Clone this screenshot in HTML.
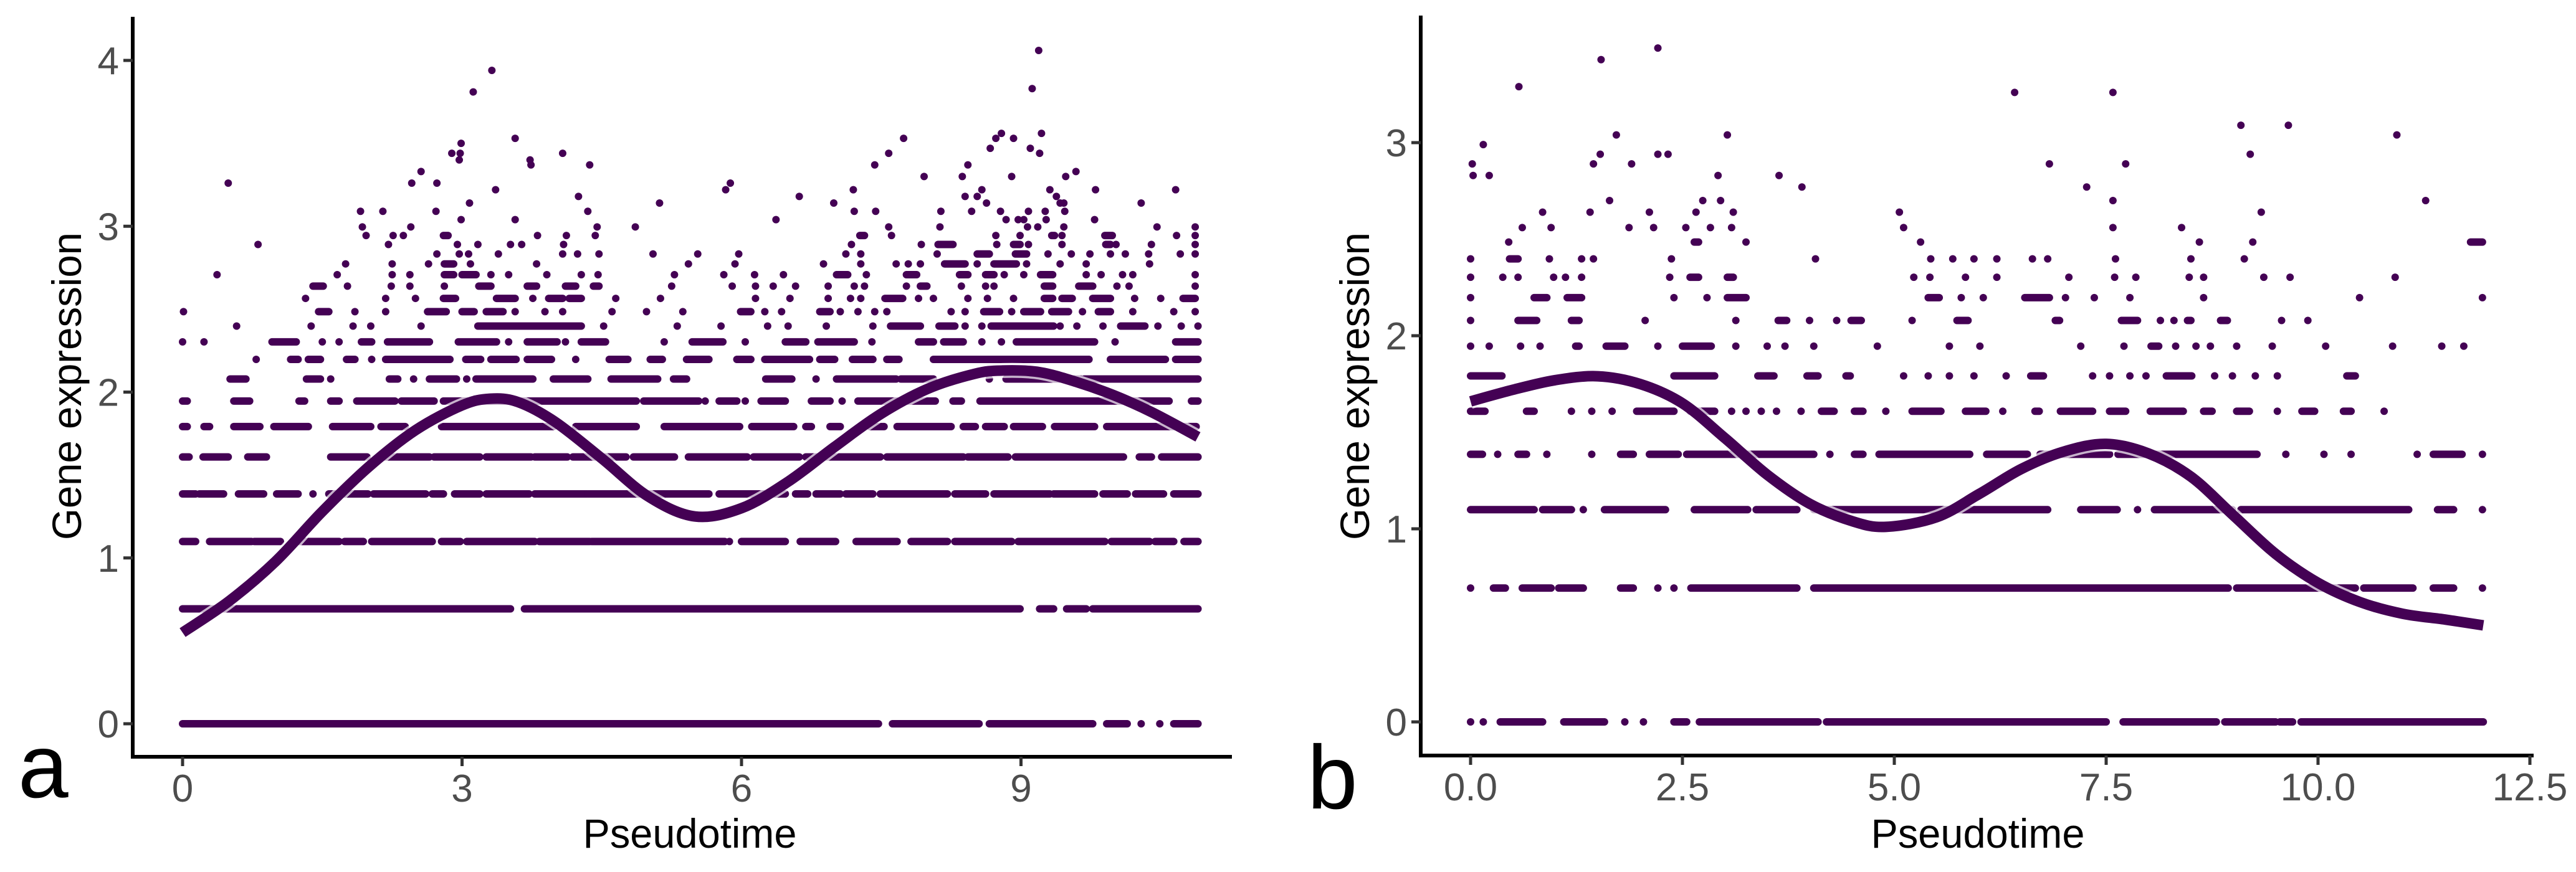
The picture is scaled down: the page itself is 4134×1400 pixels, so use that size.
<!DOCTYPE html>
<html><head><meta charset="utf-8"><style>
html,body{margin:0;padding:0;background:#fff;}
svg{display:block;}
text{font-family:"Liberation Sans",sans-serif;}
</style></head><body>
<svg id="chart" xmlns="http://www.w3.org/2000/svg" width="4134" height="1400" viewBox="0 0 4134 1400">
<rect x="0" y="0" width="4134" height="1400" fill="#fff"/>
<g id="pa"></g>
<g id="pb"></g>
<text x="29" y="1280" font-size="145" fill="#000">a</text>
<text x="2098" y="1298" font-size="145" fill="#000">b</text>
</svg>
<script>
const levelsA = [0,0.693,1.099,1.386,1.609,1.792,1.946,2.079,2.197,2.303,2.398,2.485,2.565,2.639,2.708,2.773,2.833,2.890,2.944,2.996];
const rowsA = [
 [[0,7.47],[7.62,8.55],[8.66,9.77],[9.92,10.14],10.29,10.49,[10.64,10.9]],
 [[0,3.52],[3.67,8.99],[9.2,9.35],[9.49,9.7],[9.77,10.9]],
 [[0,0.14],[0.29,0.74],[0.77,1.05],[1.25,1.68],[1.74,1.94],[2.03,2.68],[2.78,2.98],[3.05,3.78],[3.83,4.37],[4.39,5.82],5.87,[6.0,6.47],[6.63,7.01],[7.23,7.67],[7.82,8.21],[8.29,8.9],[8.97,9.9],[9.97,10.38],[10.44,10.64],[10.75,10.9]],
 [[0,0.14],[0.18,0.44],[0.6,0.87],[1.01,1.24],1.4,[1.57,1.99],[2.05,2.61],[2.68,2.8],[2.92,3.19],[3.26,3.72],[3.78,4.34],[4.35,5.65],[5.76,6.47],[6.58,6.71],[6.8,7.06],[7.12,7.41],[7.49,8.21],[8.29,8.62],[8.71,9.31],[9.35,9.79],[9.88,10.14],[10.23,10.53],[10.64,10.9]],
 [[0,0.07],[0.22,0.49],[0.7,0.9],[1.59,1.98],[2.13,2.65],[2.7,3.19],[3.26,3.74],[3.78,4.13],[4.19,4.76],[4.84,5.28],[5.43,6.06],[6.13,6.62],[6.69,7.49],[7.56,8.38],[8.43,8.86],[8.94,10.1],[10.27,10.4],[10.51,10.9]],
 [[0,0.05],[0.23,0.29],[0.55,0.83],[0.98,1.35],[1.61,2.02],[2.13,2.39],[2.78,3.98],[4.22,4.87],[5.17,5.98],[6.11,6.56],[6.69,6.75],[6.95,7.06],[7.38,7.53],[7.67,8.25],[8.38,8.51],[8.62,8.82],[8.92,9.23],[9.36,9.79],[9.92,10.88]],
 [[0,0.05],[0.55,0.72],[1.25,1.31],[1.59,1.68],[1.87,2.28],[2.35,2.7],[2.8,4.87],[4.95,5.54],5.61,[5.76,5.95],6.04,[6.21,6.47],[6.75,6.95],7.08,[7.25,8.08],[8.27,8.36],[8.56,10.59],[10.83,10.9]],
 [[0.51,0.68],[1.33,1.48],1.59,[2.22,2.31],2.48,[2.65,2.94],3.05,[3.15,3.76],[3.98,4.35],[4.6,5.1],[5.27,5.41],[6.26,6.54],6.8,[7.02,7.66],[7.71,8.06],8.66,[8.84,9.64],[9.68,10.9]],
 [0.79,[1.16,1.24],[1.35,1.48],[1.76,1.85],2.03,[2.18,2.87],[3.04,3.2],[3.31,3.58],[3.7,3.96],4.22,[4.58,4.78],[5.02,5.15],[5.41,5.65],[5.95,6.1],[6.25,6.73],[6.84,7.0],[7.19,7.41],[7.56,7.69],[8.06,9.73],[9.96,10.55],[10.66,10.9]],
 [0,0.23,[0.96,1.22],1.5,1.68,[1.92,2.03],[2.2,2.65],[2.96,3.37],3.5,[3.7,4.02],4.11,[4.28,4.54],5.17,[5.47,5.8],6.04,[6.47,6.69],[6.82,7.21],7.4,[7.9,8.06],[8.17,8.38],8.58,8.79,[8.95,9.79],10.01,[10.66,10.9]],
 [0.58,1.38,1.83,2.02,2.56,[3.17,4.28],4.52,5.31,5.78,6.28,6.5,6.91,7.41,[7.6,7.92],[8.12,8.29],8.4,8.58,[8.68,9.35],9.42,9.6,9.88,[10.07,10.33],10.47,10.72,10.9],
 [0.01,[1.46,1.57],1.85,2.18,[2.63,2.83],[3.0,3.13],[3.26,3.44],3.57,3.89,4.08,4.61,4.98,5.37,[5.99,6.1],6.25,6.43,[6.84,6.95],7.06,7.25,7.43,7.56,8.25,8.4,[8.6,8.77],8.9,[9.03,9.21],[9.33,9.51],9.66,[9.83,9.96],10.2,10.64,10.87],
 [1.32,2.18,2.5,[2.8,2.93],[3.37,3.57],3.76,[3.93,4.08],[4.15,4.28],4.65,5.13,6.15,6.52,6.93,7.17,7.28,[7.54,7.73],7.9,8.06,8.43,8.64,8.92,[9.25,9.34],[9.44,9.55],[9.77,9.96],10.22,10.5,[10.74,10.87]],
 [[1.4,1.51],1.77,2.24,2.44,2.81,[3.18,3.31],[3.7,3.8],[4.11,4.22],[4.41,4.47],5.25,5.9,6.15,6.34,6.58,6.93,7.21,7.32,7.77,[7.92,7.99],8.36,8.62,8.71,[9.25,9.34],[9.62,9.77],10.03,10.16,10.87],
 [0.37,1.66,2.25,2.44,[2.81,2.91],[3.0,3.15],3.31,3.5,3.91,4.28,4.46,5.28,5.81,6.14,6.45,[7.02,7.14],7.34,[7.77,7.88],[8.34,8.43],[8.62,8.71],8.82,9.03,[9.21,9.34],9.7,9.86,10.09,10.2,10.87],
 [1.75,2.25,2.64,[2.81,2.91],3.09,3.8,5.43,5.93,6.88,7.28,7.66,7.79,7.92,[8.18,8.4],8.53,[8.71,8.95],9.06,9.42,9.7,10.38],
 [2.73,2.97,3.07,3.39,4.08,4.24,4.47,5.05,5.53,5.97,7.12,7.28,8.1,[8.53,8.66],[8.94,9.06],9.29,9.54,9.74,9.96,10.12,10.37,10.71,10.87],
 [0.81,2.21,2.95,3.17,3.52,3.64,4.09,7.18,7.93,[8.11,8.27],8.74,[8.92,8.99],9.08,9.44,[9.91,9.96],10.02,10.4,10.87],
 [1.97,2.26,2.37,[2.8,2.85],3.81,4.12,4.43,[7.27,7.32],7.61,8.73,8.99,[9.33,9.36],9.44,[9.9,9.98],10.67,10.87],
 [1.93,2.45,4.45,4.86,7.58,8.13,9.07,9.18,9.46,10.46,10.87]
];
const extraAx = [2.99,3.57,1.91,2.15,2.72,4.35,5.12,3.08,4.25,3.36,0.49,2.46,2.73,2.56,4.37,2.89,2.98,2.97,3.73,3.74,4.08,2.99,3.57,3.12,3.32,
 5.83,5.88,6.37,6.62,6.99,7.2,7.21,7.44,7.43,7.58,7.74,7.96,8.14,8.37,8.4,8.43,8.53,8.58,8.63,8.67,8.73,8.79,8.92,8.9,8.47,8.78,8.84,8.97,9.03,9.08,9.1,9.12,9.19,9.2,9.22,9.26,9.31,9.38,9.42,9.46,9.47,9.27,9.48,9.59,9.79,9.8,10.29,10.66];
const extraAy = [3.04,3.04,3.09,3.09,3.09,3.09,3.14,3.14,3.18,3.22,3.26,3.26,3.26,3.33,3.37,3.44,3.44,3.40,3.40,3.37,3.44,3.50,3.53,3.81,3.94,
 3.22,3.26,3.04,3.18,3.14,3.22,3.09,3.09,3.37,3.44,3.53,3.30,3.09,3.30,3.18,3.37,3.18,3.22,3.14,3.47,3.53,3.56,3.53,3.30,3.09,3.09,3.04,3.04,3.04,3.09,3.47,3.83,4.06,3.44,3.56,3.09,3.22,3.18,3.14,3.14,3.09,3.04,3.30,3.33,3.04,3.22,3.14,3.22];
const curveAx = [0,0.5,1,1.5,2,2.5,3,3.3,3.6,4,4.5,5,5.5,6,6.5,7,7.5,8,8.5,8.8,9.2,9.6,10,10.4,10.9];
const curveAy = [0.55,0.74,0.98,1.28,1.55,1.77,1.92,1.96,1.94,1.82,1.6,1.37,1.25,1.3,1.46,1.67,1.87,2.02,2.11,2.13,2.12,2.06,1.98,1.88,1.73];
const ticksAx = [0,3,6,9];
const ticksAy = [0,1,2,3,4];

const levelsB = [0,0.693,1.099,1.386,1.609,1.792,1.946,2.079,2.197,2.303,2.398,2.485];
const rowsB = [
 [0,0.15,[0.35,0.85],[1.1,1.58],1.82,2.04,[2.4,2.55],[2.7,4.1],[4.2,7.5],[7.7,8.8],[8.9,9.5],[9.55,9.7],[9.8,11.95]],
 [0,[0.27,0.41],[0.61,0.95],[1.04,1.33],[1.77,1.92],2.21,2.4,[2.6,3.85],[4.05,8.94],[9.04,10.44],[10.54,11.12],[11.36,11.6],11.94],
 [[0,0.75],[0.85,1.19],1.33,[1.58,2.3],[2.64,3.27],[3.37,3.85],[4.05,6.81],[7.2,7.63],7.87,[8.07,8.99],[9.09,11.07],[11.41,11.6],11.94],
 [[0,0.14],0.32,[0.56,0.66],0.9,1.43,[1.77,1.92],[2.11,2.45],[2.55,4.05],4.24,[4.53,4.63],[4.82,5.89],[6.09,6.57],[6.72,7.54],[7.64,9.28],9.62,10.07,10.39,11.17,[11.36,11.7],11.94],
 [[0,0.17],[0.66,0.75],1.19,1.43,1.67,[1.96,2.4],[2.59,2.88],3.08,3.25,3.43,3.61,3.9,[4.14,4.29],[4.53,4.63],4.9,[5.21,5.55],[5.84,6.08],6.28,[6.66,6.71],[6.96,7.34],[7.54,7.73],[8.02,8.41],[8.65,8.75],[9.04,9.19],9.52,[9.81,9.96],[10.3,10.39],10.78],
 [[0,0.37],[2.4,2.88],[3.39,3.58],[3.97,4.1],[4.43,4.48],5.11,5.4,5.65,5.94,6.32,[6.61,6.76],7.34,7.54,7.78,7.97,[8.21,8.51],8.78,8.99,9.26,9.52,[10.34,10.44]],
 [0,0.22,0.59,0.82,[1.24,1.28],[1.6,1.82],2.21,[2.5,2.84],3.13,3.5,3.71,4.05,4.8,5.65,6.01,7.2,7.71,[8.03,8.12],8.32,8.56,8.73,9.04,9.46,10.09,10.88,11.46,11.72],
 [0,[0.56,0.78],[1.19,1.28],2.06,3.13,[3.63,3.73],4.0,4.32,[4.49,4.61],5.21,[5.74,5.87],[6.9,6.95],[7.68,7.87],8.14,8.3,[8.46,8.5],[8.85,8.93],9.57,9.88],
 [0,[0.75,0.9],[1.14,1.31],2.4,2.79,[3.03,3.25],[5.4,5.53],5.79,6.05,[6.54,6.83],7.02,7.36,7.78,8.65,10.49,11.94],
 [0,0.38,0.56,0.98,1.12,1.31,2.35,[2.59,2.69],[3.03,3.1],5.23,5.42,5.84,6.21,7.06,7.6,7.85,8.48,8.65,9.36,9.67,10.91],
 [0,[0.46,0.56],0.93,1.31,1.45,2.37,4.07,5.43,5.69,5.94,6.21,6.63,6.81,7.61,8.5,9.13],
 [0.45,[2.64,2.69],3.25,5.31,8.6,9.23,[11.8,11.94]]
];
const extraBx = [0.61,0.95,1.87,2.16,2.54,2.83,3.08,5.11,7.58,8.39,0.85,1.41,2.11,2.66,3.1,5.06,9.33,1.64,2.74,2.95,7.58,11.27,7.27,3.91,0.03,0.22,2.92,3.64,0.02,1.45,1.9,6.83,7.73,2.21,2.33,9.2,1.53,0.15,1.72,3.03,10.93,9.09,9.65,0.57,6.42,7.58,1.54,2.21];
const extraBy = [2.56,2.56,2.56,2.56,2.56,2.56,2.56,2.56,2.56,2.56,2.64,2.64,2.64,2.64,2.64,2.64,2.64,2.70,2.70,2.70,2.70,2.70,2.77,2.77,2.83,2.83,2.83,2.83,2.89,2.89,2.89,2.89,2.89,2.94,2.94,2.94,2.94,2.99,3.04,3.04,3.04,3.09,3.09,3.29,3.26,3.26,3.43,3.49];
const curveBx = [0,0.5,1,1.5,2,2.5,3,3.5,4,4.5,4.9,5.5,6,6.5,7,7.5,8,8.5,9,9.5,10,10.5,11,11.5,11.95];
const curveBy = [1.66,1.72,1.77,1.79,1.75,1.65,1.47,1.28,1.13,1.04,1.01,1.06,1.18,1.31,1.4,1.44,1.39,1.27,1.07,0.87,0.72,0.62,0.56,0.53,0.50];
const ticksBx = [0,2.5,5,7.5,10,12.5];
const ticksBy = [0,1,2,3];

const NS = "http://www.w3.org/2000/svg";
const COL = "#440154";
function mk(tag, attrs, parent){const e=document.createElementNS(NS,tag);for(const k in attrs)e.setAttribute(k,attrs[k]);parent.appendChild(e);return e;}

function smoothPath(P){
  let d = "M"+P[0][0].toFixed(1)+","+P[0][1].toFixed(1);
  for(let i=0;i<P.length-1;i++){
    const p0=P[Math.max(i-1,0)],p1=P[i],p2=P[i+1],p3=P[Math.min(i+2,P.length-1)];
    const c1x=p1[0]+(p2[0]-p0[0])/6, c1y=p1[1]+(p2[1]-p0[1])/6;
    const c2x=p2[0]-(p3[0]-p1[0])/6, c2y=p2[1]-(p3[1]-p1[1])/6;
    d+=" C"+c1x.toFixed(1)+","+c1y.toFixed(1)+" "+c2x.toFixed(1)+","+c2y.toFixed(1)+" "+p2[0].toFixed(1)+","+p2[1].toFixed(1);
  }
  return d;
}

function drawPanel(g, cfg){
  const X = d => cfg.x0 + cfg.kx*d;
  const Y = v => cfg.y0 - cfg.ky*v;
  const pts = mk("g",{},g);
  
  
  cfg.rows.forEach((row,i)=>{
    const yv = cfg.levels[i];
    row.forEach(s=>{
      if(Array.isArray(s)){
        const l = mk("line",{x1:X(s[0]),x2:X(s[1]),y1:Y(yv),y2:Y(yv),stroke:COL,"stroke-width":12,"stroke-linecap":"round"},pts);
        
        
      } else {
        const c = mk("circle",{cx:X(s),cy:Y(yv),r:6,fill:COL},pts);
        
        
      }
    });
  });
  cfg.ex.forEach((xv,i)=>{
    const c = mk("circle",{cx:X(xv),cy:Y(cfg.ey[i]),r:6,fill:COL},pts);
    
    
  });
  const P = cfg.cx.map((xv,i)=>[X(xv),Y(cfg.cy[i])]);
  const d = smoothPath(P);
  const halo = mk("path",{d:d,fill:"none",stroke:"#fff","stroke-width":24,opacity:0.7},g);
  
  
  const cur = mk("path",{d:d,fill:"none",stroke:COL,"stroke-width":17}, g);
  
  
  const ax = mk("line",{x1:cfg.left-3,x2:cfg.right,y1:cfg.bottom,y2:cfg.bottom,stroke:"#000","stroke-width":6},g);
  
  
  const ay = mk("line",{x1:cfg.left,x2:cfg.left,y1:cfg.top,y2:cfg.bottom+3,stroke:"#000","stroke-width":6},g);
  
  
  cfg.tx.forEach(t=>{
    const tk = mk("line",{x1:X(t),x2:X(t),y1:cfg.bottom,y2:cfg.bottom+15,stroke:"#333","stroke-width":5},g);
    
    
    const tl = mk("text",{x:X(t),y:cfg.bottom+72,"text-anchor":"middle","font-size":62,fill:"#4d4d4d"},g);
    tl.textContent = cfg.fmt(t);
    
    
  });
  cfg.ty.forEach(t=>{
    const tk = mk("line",{x1:cfg.left-15,x2:cfg.left,y1:Y(t),y2:Y(t),stroke:"#333","stroke-width":5},g);
    
    
    const tl = mk("text",{x:cfg.left-22,y:Y(t)+22,"text-anchor":"end","font-size":62,fill:"#4d4d4d"},g);
    tl.textContent = String(t);
    
    
  });
  const xt = mk("text",{x:cfg.xtx,y:1361,"text-anchor":"middle","font-size":66,fill:"#000",textLength:343,lengthAdjust:"spacingAndGlyphs"},g);
  xt.textContent = "Pseudotime";
  
  
  const yt = mk("text",{x:0,y:0,"text-anchor":"middle","font-size":66,fill:"#000",textLength:494,lengthAdjust:"spacingAndGlyphs",transform:`translate(${cfg.ytx},620) rotate(-90)`},g);
  yt.textContent = "Gene expression";
  
  
}

drawPanel(document.getElementById('pa'),{x0:293,kx:149.5,y0:1162,ky:266.25,left:213,right:1977,top:27,bottom:1215,
  levels:levelsA,rows:rowsA,ex:extraAx,ey:extraAy,cx:curveAx,cy:curveAy,tx:ticksAx,ty:ticksAy,fmt:t=>String(t),xtx:1107,ytx:130});
drawPanel(document.getElementById('pb'),{x0:2360,kx:136,y0:1159,ky:310,left:2280,right:4066,top:25,bottom:1213,
  levels:levelsB,rows:rowsB,ex:extraBx,ey:extraBy,cx:curveBx,cy:curveBy,tx:ticksBx,ty:ticksBy,fmt:t=>t.toFixed(1),xtx:3174,ytx:2197});
</script>
</body></html>
